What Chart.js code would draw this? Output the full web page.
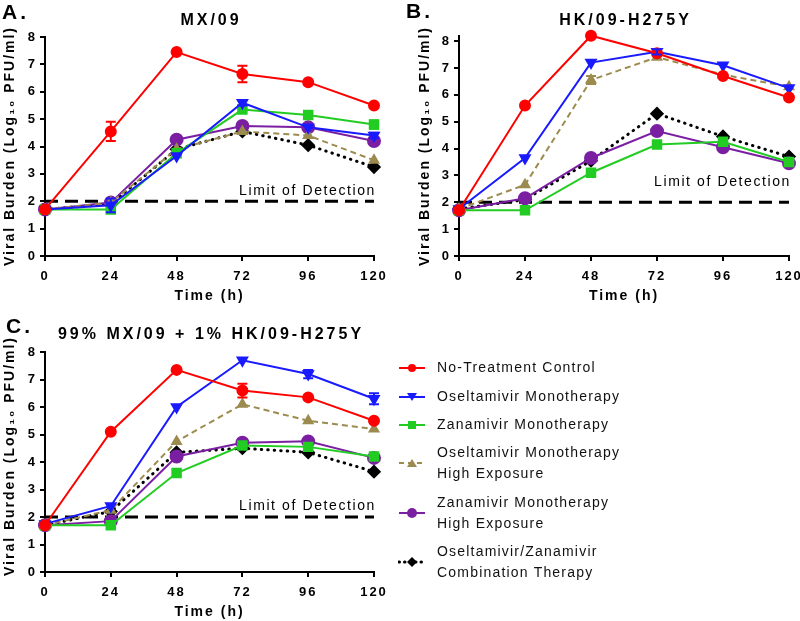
<!DOCTYPE html>
<html>
<head>
<meta charset="utf-8">
<script src="https://cdn.jsdelivr.net/npm/chart.js@4.4.1/dist/chart.umd.min.js"></script>
<style>
  body { margin: 0; background: #fff; width: 800px; height: 621px; position: relative; overflow: hidden;
         font-family: "Liberation Sans", Arial, sans-serif; }
  canvas { position: absolute; }
  .tag { position: absolute; font-weight: bold; font-size: 21px; letter-spacing: 3px; line-height: 1; }
  .entry { position: absolute; left: 398px; display: flex; align-items: center; }
  .entry svg { width: 28px; height: 14px; flex: none; }
  .entry span { margin-left: 11px; font-size: 14px; letter-spacing: 1.2px; line-height: 21px; color: #111; }
</style>
</head>
<body>
<canvas id="panelA" width="400" height="305" style="left:0;top:0"></canvas>
<canvas id="panelB" width="386" height="305" style="left:414px;top:0"></canvas>
<canvas id="panelC" width="400" height="311" style="left:0;top:310px"></canvas>

<div class="tag" style="left:2px;top:1px">A.</div>
<div class="tag" style="left:406px;top:0px">B.</div>
<div class="tag" style="left:6px;top:315px">C.</div>

<div id="legend"></div>

<script>
// time points and labels
const hours = [0, 24, 48, 72, 96, 120];
const seriesLabels = [
  'No-Treatment Control',
  'Oseltamivir Monotherapy',
  'Zanamivir Monotherapy',
  'Oseltamivir Monotherapy High Exposure',
  'Zanamivir Monotherapy High Exposure',
  'Oseltamivir/Zanamivir Combination Therapy'
];
const legendLines = [
  ['No-Treatment Control'],
  ['Oseltamivir Monotherapy'],
  ['Zanamivir Monotherapy'],
  ['Oseltamivir Monotherapy', 'High Exposure'],
  ['Zanamivir Monotherapy', 'High Exposure'],
  ['Oseltamivir/Zanamivir', 'Combination Therapy']
];
const panelTitles = ['MX/09', 'HK/09-H275Y', '99% MX/09 + 1% HK/09-H275Y'];
const xAxisTitle = 'Time (h)';
const yAxisTitle = 'Viral Burden (Log₁₀ PFU/ml)';
const limitOfDetection = 2;
const lodLabel = 'Limit of Detection';

// A. MX/09
const aControl  = [1.7, 4.55, 7.45, 6.65, 6.35, 5.5];
const aOsel     = [1.7, 1.85, 3.65, 5.6, 4.7, 4.4];
const aZan      = [1.7, 1.7, 3.75, 5.35, 5.15, 4.8];
const aOselHigh = [1.7, 1.95, 3.9, 4.55, 4.4, 3.5];
const aZanHigh  = [1.7, 1.95, 4.25, 4.75, 4.7, 4.2];
const aCombo    = [1.7, 1.9, 3.9, 4.55, 4.05, 3.25];
const aControlErr = [0, 0.35, 0, 0.3, 0, 0];
const aOselErr    = [0, 0.25, 0, 0.1, 0, 0.1];
const aZanErr     = [0, 0, 0, 0, 0, 0.15];

// B. HK/09-H275Y
const bControl  = [1.7, 5.6, 8.2, 7.55, 6.7, 5.9];
const bOsel     = [1.75, 3.65, 7.2, 7.6, 7.1, 6.25];
const bZan      = [1.7, 1.7, 3.1, 4.15, 4.25, 3.5];
const bOselHigh = [1.75, 2.65, 6.55, 7.4, 6.75, 6.3];
const bZanHigh  = [1.7, 2.15, 3.65, 4.65, 4.05, 3.45];
const bCombo    = [1.75, 2.1, 3.55, 5.3, 4.45, 3.7];
const bOselErr     = [0, 0, 0, 0.1, 0, 0];
const bOselHighErr = [0, 0, 0.15, 0, 0, 0];
const bZanHighErr  = [0, 0.15, 0, 0, 0, 0];

// C. 99% MX/09 + 1% HK/09-H275Y
const cControl  = [1.7, 5.1, 7.35, 6.6, 6.35, 5.5];
const cOsel     = [1.75, 2.4, 6.0, 7.7, 7.2, 6.3];
const cZan      = [1.7, 1.7, 3.6, 4.6, 4.55, 4.2];
const cOselHigh = [1.7, 2.25, 4.75, 6.1, 5.5, 5.2];
const cZanHigh  = [1.7, 1.85, 4.2, 4.7, 4.75, 4.15];
const cCombo    = [1.7, 2.2, 4.35, 4.5, 4.35, 3.65];
const cControlErr = [0, 0, 0, 0.25, 0, 0];
const cOselErr    = [0, 0, 0, 0, 0.15, 0.2];

const looks = [
  { color: '#ff0000', style: 'circle', r: 5, dash: [], width: 2 },
  { color: '#1a1aff', style: 'triangle', r: 5.5, rot: 180, dash: [], width: 2 },
  { color: '#22cc22', style: 'rect', r: 6, dash: [], width: 2 },
  { color: '#9c8b4e', style: 'triangle', r: 5, dash: [6, 4], width: 2 },
  { color: '#7b1fa2', style: 'circle', r: 6, dash: [], width: 2 },
  { color: '#000000', style: 'rectRot', r: 5, dash: [0.5, 6], width: 3, cap: 'round' }
];

const FONT = '"Liberation Sans", Arial, sans-serif';
Chart.defaults.font.family = FONT;
Chart.defaults.color = '#000';

// wider letter spacing like the original figure
const spacing = {
  id: 'spacing',
  beforeLayout(chart) { chart.ctx.letterSpacing = '2px'; },
  beforeDraw(chart) { chart.ctx.letterSpacing = '2px'; }
};

// error bars, LOD label, panel title and y title
const extras = {
  id: 'extras',
  afterDatasetsDraw(chart, args, o) {
    const { ctx, chartArea } = chart;
    const x = chart.scales.x, y = chart.scales.y;
    ctx.save();
    chart.data.datasets.forEach(ds => {
      if (!ds.errors) return;
      ctx.strokeStyle = ds.borderColor;
      ctx.lineWidth = 2;
      ctx.setLineDash([]);
      ds.data.forEach((p, j) => {
        const e = ds.errors[j];
        if (!e) return;
        const px = x.getPixelForValue(p.x);
        const top = y.getPixelForValue(p.y + e), bot = y.getPixelForValue(p.y - e);
        ctx.beginPath();
        ctx.moveTo(px, top); ctx.lineTo(px, bot);
        ctx.moveTo(px - 5, top); ctx.lineTo(px + 5, top);
        ctx.moveTo(px - 5, bot); ctx.lineTo(px + 5, bot);
        ctx.stroke();
      });
    });
    ctx.fillStyle = '#000';
    ctx.textBaseline = 'middle';
    ctx.letterSpacing = '1.6px';
    ctx.font = '14px ' + FONT;
    ctx.textAlign = 'right';
    ctx.fillText(lodLabel, x.getPixelForValue(hours[hours.length - 1]) + 2, y.getPixelForValue(o.lodY));

    ctx.letterSpacing = '3px';
    ctx.font = 'bold 16px ' + FONT;
    ctx.textAlign = 'center';
    ctx.fillText(o.title, (chartArea.left + chartArea.right) / 2 + 1.5, o.titleY);

    ctx.letterSpacing = '2px';
    ctx.font = 'bold 14px ' + FONT;
    ctx.translate(o.yTitleX, o.yTitleY);
    ctx.rotate(-Math.PI / 2);
    ctx.fillText(yAxisTitle, 0, 0);
    ctx.restore();
  }
};

function drawPanel(id, series, errs, title, lodY, yMax, pad) {
  const datasets = series.map((vals, i) => ({
    label: seriesLabels[i],
    data: hours.map((h, j) => ({ x: h, y: vals[j] })),
    errors: errs[i],
    borderColor: looks[i].color,
    backgroundColor: looks[i].color,
    pointBackgroundColor: looks[i].color,
    pointBorderColor: looks[i].color,
    pointStyle: looks[i].style,
    pointRadius: looks[i].r,
    pointRotation: looks[i].rot || 0,
    borderWidth: looks[i].width,
    borderDash: looks[i].dash,
    borderCapStyle: looks[i].cap || 'butt',
    tension: 0,
    clip: false
  }));
  datasets.push({
    label: lodLabel,
    data: [{ x: hours[0], y: limitOfDetection }, { x: hours[hours.length - 1], y: limitOfDetection }],
    borderColor: '#000',
    borderWidth: 3,
    borderDash: [13, 7],
    pointRadius: 0,
    clip: false
  });

  new Chart(document.getElementById(id), {
    type: 'line',
    data: { datasets },
    options: {
      responsive: false,
      animation: false,
      devicePixelRatio: 1,
      layout: { padding: { top: pad.top, right: pad.right, left: 0, bottom: 0 } },
      plugins: {
        legend: { display: false },
        tooltip: { enabled: false },
        extras: { title, titleY: pad.titleY, lodY, yTitleX: pad.yTitleX, yTitleY: pad.yTitleY }
      },
      scales: {
        x: {
          type: 'linear', min: 0, max: 120,
          ticks: { stepSize: 24, color: '#000', padding: 8, font: { size: 13, weight: 'bold' } },
          grid: { drawOnChartArea: false, color: '#000', lineWidth: 2, tickLength: 5 },
          border: { color: '#000', width: 2 },
          title: { display: true, text: xAxisTitle, color: '#000',
                   font: { size: 14, weight: 'bold' }, padding: { top: 0, bottom: 0 } },
          afterFit(s) { s.height = 49; s.paddingLeft = 0; s.paddingRight = 0; }
        },
        y: {
          min: 0, max: yMax,
          ticks: { stepSize: 1, includeBounds: false, color: '#000', padding: 3, font: { size: 13, weight: 'bold' } },
          grid: { drawOnChartArea: false, color: '#000', lineWidth: 2, tickLength: 5 },
          border: { color: '#000', width: 2 },
          title: { display: false },
          afterFit(s) { s.width = 45; }
        }
      }
    },
    plugins: [spacing, extras]
  });
}

drawPanel('panelA',
  [aControl, aOsel, aZan, aOselHigh, aZanHigh, aCombo],
  [aControlErr, aOselErr, aZanErr, null, null, null],
  panelTitles[0], 2.36, 8, { top: 37, right: 26, titleY: 21, yTitleX: 10, yTitleY: 146 });

drawPanel('panelB',
  [bControl, bOsel, bZan, bOselHigh, bZanHigh, bCombo],
  [null, bOselErr, null, bOselHighErr, bZanHighErr, null],
  panelTitles[1], 2.75, 8.19, { top: 36, right: 11, titleY: 21, yTitleX: 11, yTitleY: 146 });

drawPanel('panelC',
  [cControl, cOsel, cZan, cOselHigh, cZanHigh, cCombo],
  [cControlErr, cOselErr, null, null, null, null],
  panelTitles[2], 2.4, 8, { top: 42, right: 26, titleY: 25, yTitleX: 10, yTitleY: 146 });

// legend
const legendTops = [357, 386, 414, 442, 492, 541];
function markerSvg(i) {
  const lk = looks[i];
  let line = '<line x1="1" y1="7" x2="27" y2="7" stroke="' + lk.color + '" stroke-width="' + lk.width + '"';
  if (lk.dash.length) line += ' stroke-dasharray="' + (lk.cap ? '0.5 5' : '5 4') + '"' + (lk.cap ? ' stroke-linecap="round"' : '');
  line += '/>';
  let mark = '';
  const c = lk.color;
  if (lk.style === 'circle') mark = '<circle cx="14" cy="7" r="' + (lk.r - 1) + '" fill="' + c + '"/>';
  if (lk.style === 'rect') mark = '<rect x="10" y="3" width="8" height="8" fill="' + c + '"/>';
  if (lk.style === 'triangle' && lk.rot) mark = '<polygon points="9,3 19,3 14,11" fill="' + c + '"/>';
  else if (lk.style === 'triangle') mark = '<polygon points="9,11 19,11 14,3" fill="' + c + '"/>';
  if (lk.style === 'rectRot') mark = '<polygon points="14,2 19,7 14,12 9,7" fill="' + c + '"/>';
  return '<svg viewBox="0 0 28 14">' + line + mark + '</svg>';
}
const legend = document.getElementById('legend');
legendLines.forEach((lines, i) => {
  const d = document.createElement('div');
  d.className = 'entry';
  d.style.top = legendTops[i] + 'px';
  d.innerHTML = markerSvg(i) + '<span>' + lines.join('<br>') + '</span>';
  legend.appendChild(d);
});
</script>
</body>
</html>
